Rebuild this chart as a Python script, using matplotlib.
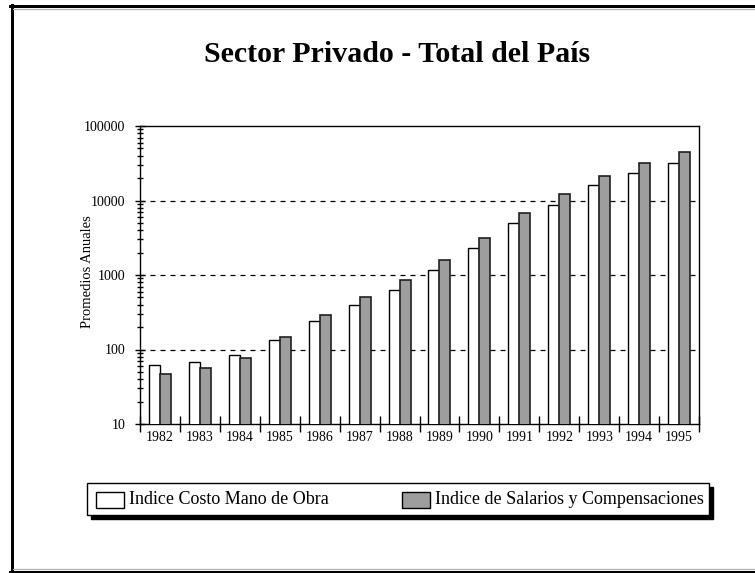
import matplotlib
matplotlib.use("Agg")
import matplotlib.pyplot as plt
import numpy as np
from matplotlib.lines import Line2D
from matplotlib.patches import Rectangle
from matplotlib.ticker import FixedLocator, LogLocator, NullFormatter

years = ["1982", "1983", "1984", "1985", "1986", "1987", "1988",
         "1989", "1990", "1991", "1992", "1993", "1994", "1995"]
costo_mano_obra = [61, 68, 84, 134, 241, 399, 630, 1180, 2280, 4990,
                   8710, 16150, 23400, 32100]
salarios_comp = [47, 56, 78, 148, 288, 507, 849, 1575, 3140, 6730,
                 12100, 21300, 31800, 44400]
series_labels = ["Indice Costo Mano de Obra", "Indice de Salarios y Compensaciones"]
y_ticks = [10, 100, 1000, 10000, 100000]
title = "Sector Privado - Total del País"
ylabel = "Promedios Anuales"

W, H = 755, 573
fig = plt.figure(figsize=(W / 100, H / 100), dpi=100)
serif = "Liberation Serif"

def px(x, y):
    return x / W, 1 - y / H

# axes
l, r, t, b = 140, 699, 126, 424
ax = fig.add_axes([l / W, 1 - b / H, (r - l) / W, (b - t) / H])
x = np.arange(len(years))
bw = 0.275
ax.bar(x - bw / 2, costo_mano_obra, bw, color="white", edgecolor="black",
       linewidth=1.0, zorder=3)
ax.bar(x + bw / 2, salarios_comp, bw, color="#9e9e9e", edgecolor="#202020",
       linewidth=1.2, zorder=3)
ax.set_yscale("log")
ax.set_ylim(10, 100000)
ax.set_xlim(-0.5, len(years) - 0.5)

for v in [100, 1000, 10000]:
    ax.axhline(v, color="black", lw=0.9, ls=(0, (4, 4)), zorder=1)

ax.set_yticks(y_ticks)
ax.set_yticklabels([str(v) for v in y_ticks], fontfamily=serif, fontsize=10)
ax.yaxis.set_minor_locator(LogLocator(base=10, subs=np.arange(2, 10)))
ax.yaxis.set_minor_formatter(NullFormatter())
ax.tick_params(axis="y", which="major", direction="inout", length=7, width=1, pad=7)
ax.tick_params(axis="y", which="minor", direction="inout", length=5, width=1)

ax.xaxis.set_major_locator(FixedLocator(x))
ax.set_xticklabels(years, fontfamily=serif, fontsize=10)
ax.tick_params(axis="x", which="major", length=0, pad=5)
ax.xaxis.set_minor_locator(FixedLocator(np.arange(-0.5, len(years), 1.0)))
ax.tick_params(axis="x", which="minor", direction="inout", length=12, width=1)

for s in ax.spines.values():
    s.set_linewidth(1.0)

ax.set_ylabel(ylabel, fontfamily=serif, fontsize=10.5)
ax.yaxis.set_label_coords((94 - l) / (r - l), 0.51)

# title
tx, ty = px(397, 55)
fig.text(tx, ty, title, ha="center", va="center", fontfamily=serif,
         fontweight="bold", fontsize=21.5)

# outer frame
lw3 = 3 * 0.72
fig.add_artist(Line2D([11.5 / W, 11.5 / W], [1 - 5 / H, 0], color="black", lw=lw3))
fig.add_artist(Line2D([10 / W, 1], [1 - 5.5 / H, 1 - 5.5 / H], color="black", lw=lw3))
fig.add_artist(Line2D([13 / W, 1], [1 - 8.5 / H, 1 - 8.5 / H], color="#b0b0b0", lw=0.9))
fig.add_artist(Line2D([10 / W, 1], [1 - 571.5 / H, 1 - 571.5 / H], color="black", lw=lw3))
fig.add_artist(Line2D([13 / W, 1], [1 - 569 / H, 1 - 569 / H], color="#b0b0b0", lw=0.9))

# legend box with shadow
lx0, ly0, lx1, ly1 = 87, 483, 709, 515
sh = 4
fig.add_artist(Rectangle(px(lx0 + sh, ly1 + sh), (lx1 - lx0) / W, (ly1 - ly0) / H,
                         transform=fig.transFigure, facecolor="black", edgecolor="black"))
fig.add_artist(Rectangle(px(lx0, ly1), (lx1 - lx0) / W, (ly1 - ly0) / H,
                         transform=fig.transFigure, facecolor="white", edgecolor="black",
                         lw=1.0))
patch_x = [96, 402]
colors = ["white", "#9e9e9e"]
for i, lab in enumerate(series_labels):
    fig.add_artist(Rectangle(px(patch_x[i], 508), 28 / W, 16 / H,
                             transform=fig.transFigure, facecolor=colors[i],
                             edgecolor="black", lw=1.0))
    tx, ty = px(patch_x[i] + 33, 500)
    fig.text(tx, ty, lab, ha="left", va="center", fontfamily=serif, fontsize=13)

fig.savefig("out.png", dpi=100)
